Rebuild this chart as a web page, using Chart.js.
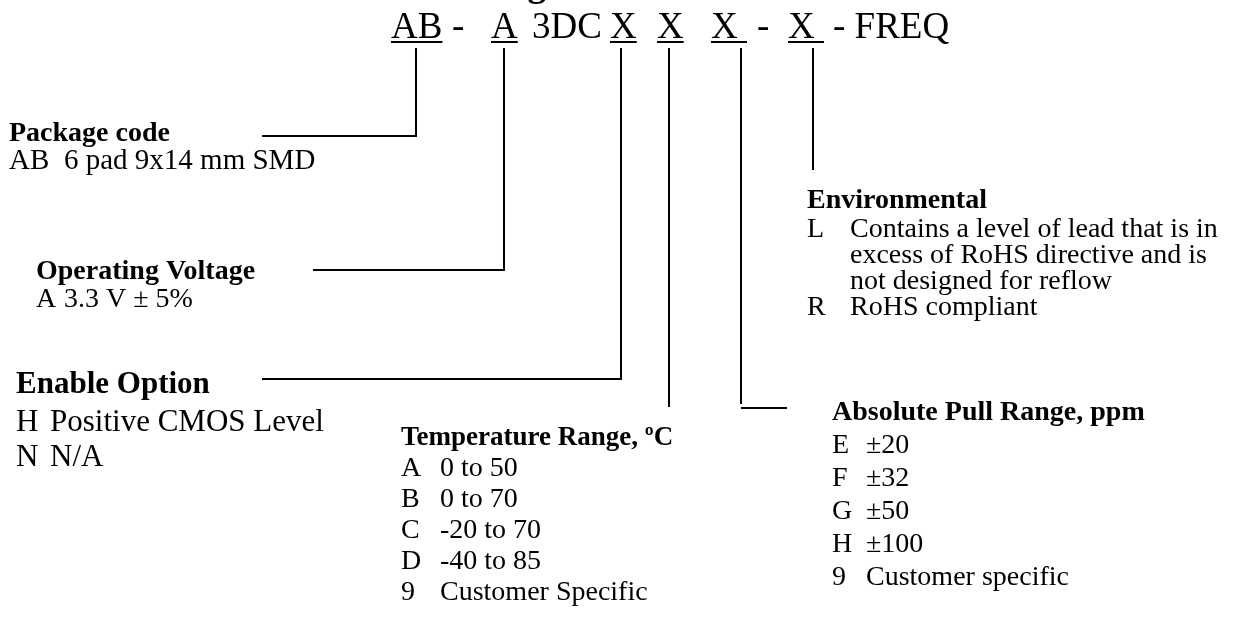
<!DOCTYPE html>
<html>
<head>
<meta charset="utf-8">
<script src="https://cdn.jsdelivr.net/npm/chart.js@4/dist/chart.umd.min.js"></script>
<style>
  html, body { margin: 0; padding: 0; background: #ffffff; }
  #wrap { width: 1248px; height: 618px; }
</style>
</head>
<body>
<div id="wrap"><canvas id="c" width="1248" height="618"></canvas></div>
<script>
// ---- content (text values) ----
const headerText = "Ordering Information";
const codeParts = ["AB", "-", "A", "3DC", "X", "X", "X ", "-", "X ", "- FREQ"];
const codeUnderlined = [true, false, true, false, true, true, true, false, true, false];

const packageTitle = "Package code";
const packageCodes = ["AB"];
const packageDescs = ["6 pad 9x14 mm SMD"];

const voltageTitle = "Operating Voltage";
const voltageCodes = ["A"];
const voltageDescs = ["3.3 V \u00B1 5%"];

const enableTitle = "Enable Option";
const enableCodes = ["H", "N"];
const enableDescs = ["Positive CMOS Level", "N/A"];

const tempTitle = "Temperature Range, \u00BAC";
const tempCodes = ["A", "B", "C", "D", "9"];
const tempDescs = ["0 to 50", "0 to 70", "-20 to 70", "-40 to 85", "Customer Specific"];

const pullTitle = "Absolute Pull Range, ppm";
const pullCodes = ["E", "F", "G", "H", "9"];
const pullDescs = ["\u00B120", "\u00B132", "\u00B150", "\u00B1100", "Customer specific"];

const envTitle = "Environmental";
const envCodes = ["L", "", "", "R"];
const envDescs = ["Contains a level of lead that is in", "excess of RoHS directive and is", "not designed for reflow", "RoHS compliant"];

// connector paths (diagram units)
const packageLine = [[262, 136], [416, 136], [416, 48]];
const voltageLine = [[313, 270], [504, 270], [504, 48]];
const enableLine  = [[262, 379], [621, 379], [621, 48]];
const tempLine    = [[669, 48], [669, 407]];
const pullLineV   = [[741, 48], [741, 404]];
const pullLineH   = [[741, 408], [787, 408]];
const envLine     = [[813, 48], [813, 170]];

// ---- layout ----
const SERIF = '"Liberation Serif", "Times New Roman", serif';
const codeLayout = { lefts: [391, 452, 491, 532, 610, 657, 711, 757, 788, 833], baseline: 38, size: 37, underlineY: 42 };
const headerLayout = { x: 398, baseline: -4, size: 37 };

const blocks = [
  { title: packageTitle, codes: packageCodes, descs: packageDescs, x: 9, descX: 64, titleY: 141, firstY: 169, step: 30, tSize: 28, bSize: 29 },
  { title: voltageTitle, codes: voltageCodes, descs: voltageDescs, x: 36, descX: 64, titleY: 279, firstY: 307, step: 30, tSize: 28, bSize: 28 },
  { title: enableTitle, codes: enableCodes, descs: enableDescs, x: 16, descX: 50, titleY: 393, firstY: 431, step: 35, tSize: 31, bSize: 31 },
  { title: tempTitle, codes: tempCodes, descs: tempDescs, x: 401, descX: 440, titleY: 445, firstY: 476, step: 31, tSize: 27, bSize: 28 },
  { title: pullTitle, codes: pullCodes, descs: pullDescs, x: 832, descX: 866, titleY: 420, firstY: 453, step: 33, tSize: 28, bSize: 28 },
  { title: envTitle, codes: envCodes, descs: envDescs, x: 807, descX: 850, titleY: 208, firstY: 237, step: 26, tSize: 28, bSize: 28 }
];

function toPts(arr) { return arr.map(p => ({ x: p[0], y: p[1] })); }
const paths = [packageLine, voltageLine, enableLine, tempLine, pullLineV, pullLineH, envLine];

const textPlugin = {
  id: 'diagramText',
  afterDraw(chart) {
    const ctx = chart.ctx;
    const xs = chart.scales.x, ys = chart.scales.y;
    const X = v => xs.getPixelForValue(v), Y = v => ys.getPixelForValue(v);
    ctx.save();
    ctx.fillStyle = '#000';
    ctx.textBaseline = 'alphabetic';
    ctx.textAlign = 'left';

    // header (cut off at top edge)
    ctx.font = 'bold ' + headerLayout.size + 'px ' + SERIF;
    ctx.fillText(headerText, X(headerLayout.x), Y(headerLayout.baseline));

    // part number code
    ctx.font = codeLayout.size + 'px ' + SERIF;
    codeParts.forEach((t, i) => {
      const lx = X(codeLayout.lefts[i]);
      ctx.fillText(t, lx, Y(codeLayout.baseline));
      if (codeUnderlined[i]) {
        const w = ctx.measureText(t).width;
        ctx.fillRect(lx, Y(codeLayout.underlineY) - 1, w, 2);
      }
    });

    // option blocks
    blocks.forEach(b => {
      ctx.font = 'bold ' + b.tSize + 'px ' + SERIF;
      ctx.fillText(b.title, X(b.x), Y(b.titleY));
      ctx.font = b.bSize + 'px ' + SERIF;
      b.descs.forEach((d, i) => {
        const y = Y(b.firstY + i * b.step);
        if (b.codes[i]) ctx.fillText(b.codes[i], X(b.x), y);
        ctx.fillText(d, X(b.descX), y);
      });
    });
    ctx.restore();
  }
};

new Chart(document.getElementById('c'), {
  type: 'scatter',
  data: {
    datasets: paths.map(p => ({
      data: toPts(p),
      showLine: true,
      borderColor: '#000',
      borderWidth: 2,
      pointRadius: 0,
      pointHoverRadius: 0,
      fill: false,
      tension: 0,
      clip: false
    }))
  },
  options: {
    responsive: false,
    animation: false,
    events: [],
    layout: { padding: 0 },
    scales: {
      x: { type: 'linear', min: 0, max: 1248, display: false },
      y: { type: 'linear', min: 0, max: 618, reverse: true, display: false }
    },
    plugins: { legend: { display: false }, tooltip: { enabled: false } }
  },
  plugins: [textPlugin]
});
</script>
</body>
</html>
